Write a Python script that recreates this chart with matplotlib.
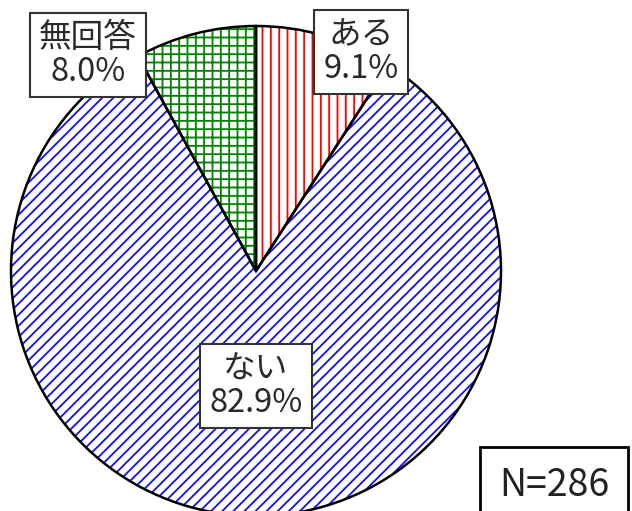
import matplotlib.pyplot as plt

plt.rcParams['font.family'] = ['Noto Sans CJK JP', 'DejaVu Sans']
plt.rcParams['hatch.linewidth'] = 1.3

# data (clockwise from 12 o'clock)
labels = ['ある', 'ない', '無回答']
shares = [9.1, 82.9, 8.0]
hatch_colors = ['red', '#1010e8', 'green']
hatches = ['||', '///', '++']
n_total = 286

# label box centres in pixel coords (y from top)
label_pos = [(361, 52), (256, 386), (88, 55)]

fig = plt.figure(figsize=(6.32, 5.11), dpi=100)
ax = fig.add_axes([0, 0, 1, 1])

cx, cy, r = 256, 511 - 271, 245

# hatch layer
wedges, _ = ax.pie(shares, startangle=90, counterclock=False,
                   center=(cx, cy), radius=r, colors=['white'] * 3)
for w, hc, h in zip(wedges, hatch_colors, hatches):
    w.set_hatch(h)
    w.set_edgecolor(hc)
    w.set_linewidth(0)

# outline layer
ax.pie(shares, startangle=90, counterclock=False, center=(cx, cy), radius=r,
       wedgeprops=dict(fill=False, edgecolor='black', linewidth=1.8))

for lab, val, (x, y) in zip(labels, shares, label_pos):
    ax.text(x, 511 - y, f'{lab}\n{val:.1f}%', ha='center', va='center',
            fontsize=23.5, color='#2a2a2a', linespacing=1.05,
            bbox=dict(boxstyle='square,pad=0.28', facecolor='white',
                      edgecolor='#333333', linewidth=1.5))

ax.text(554, 511 - 485, f'N={n_total}', ha='center', va='center',
        fontsize=27, color='#222222',
        bbox=dict(boxstyle='square,pad=0.5', facecolor='white',
                  edgecolor='black', linewidth=2))

ax.set_xlim(0, 632)
ax.set_ylim(0, 511)
ax.set_aspect('equal')
ax.axis('off')

fig.savefig('out.png', dpi=100)
